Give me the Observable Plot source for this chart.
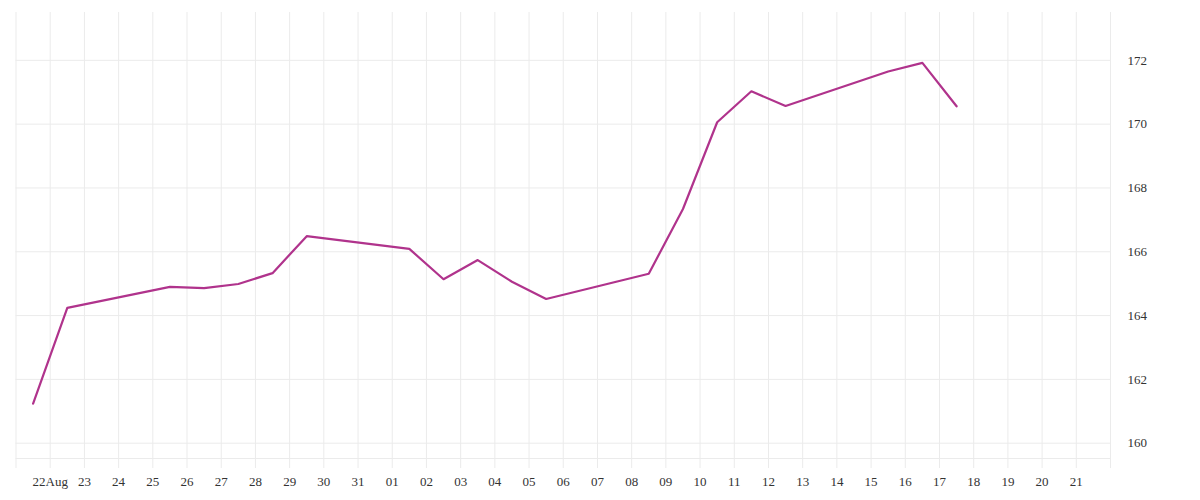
<!DOCTYPE html>
<html>
<head>
<meta charset="utf-8">
<script src="https://cdn.jsdelivr.net/npm/d3@7"></script>
<script src="https://cdn.jsdelivr.net/npm/@observablehq/plot@0.6"></script>
<style>
  html, body { margin: 0; padding: 0; background: #fff; }
  #chart svg { display: block; }
</style>
</head>
<body>
<div id="chart"></div>
<script>
// Trading days (plotted at mid-day) and closing values
const dates = [
  "2025-08-21", "2025-08-22", "2025-08-25", "2025-08-26", "2025-08-27",
  "2025-08-28", "2025-08-29", "2025-09-01", "2025-09-02", "2025-09-03",
  "2025-09-04", "2025-09-05", "2025-09-08", "2025-09-09", "2025-09-10",
  "2025-09-11", "2025-09-12", "2025-09-15", "2025-09-16", "2025-09-17"
];
const values = [
  161.24, 164.24, 164.90, 164.86, 164.99,
  165.33, 166.49, 166.09, 165.14, 165.74,
  165.06, 164.52, 165.31, 167.34, 170.06,
  171.03, 170.57, 171.65, 171.92, 170.56
];
const yTicks = [160, 162, 164, 166, 168, 170, 172];
const xStart = "2025-08-21";
const xEnd = "2025-09-22";
const yDomain = [159.52, 173.5];
const lineColor = "#b0338c";
const gridColor = "#ebebeb";

const data = dates.map((d, i) => ({date: new Date(d + "T12:00:00Z"), value: values[i]}));
const start = new Date(xStart + "T00:00:00Z");
const end = new Date(xEnd + "T00:00:00Z");
const dayTicks = d3.utcDay.range(start, d3.utcDay.offset(end, 1));
const fmtDay = d3.utcFormat("%d");
const fmtFirst = d3.utcFormat("%d%b");

const chart = Plot.plot({
  width: 1200,
  height: 500,
  marginLeft: 15.5,
  marginRight: 90,
  marginTop: 12,
  marginBottom: 42,
  style: {fontFamily: "'Liberation Serif', serif", fontSize: "13px", color: "#333", background: "#fff"},
  x: {type: "utc", domain: [start, end]},
  y: {domain: yDomain},
  marks: [
    Plot.gridX(dayTicks, {stroke: gridColor, strokeOpacity: 1}),
    Plot.gridY(yTicks, {stroke: gridColor, strokeOpacity: 1}),
    Plot.frame({anchor: "bottom", stroke: gridColor, strokeOpacity: 1}),
    Plot.axisX(dayTicks, {
      anchor: "bottom",
      tickSize: 10,
      tickPadding: 8,
      stroke: gridColor,
      strokeOpacity: 1,
      fill: "#333",
      label: null,
      tickFormat: (d) => (+d === +start || +d === +end) ? "" : (+d === +d3.utcDay.offset(start, 1) ? fmtFirst(d) : fmtDay(d))
    }),
    Plot.axisY(yTicks, {
      anchor: "right",
      tickSize: 0,
      tickPadding: 17,
      fill: "#333",
      textAnchor: "start",
      label: null
    }),
    Plot.line(data, {x: "date", y: "value", stroke: lineColor, strokeWidth: 2.2})
  ]
});
document.getElementById("chart").append(chart);
</script>
</body>
</html>
